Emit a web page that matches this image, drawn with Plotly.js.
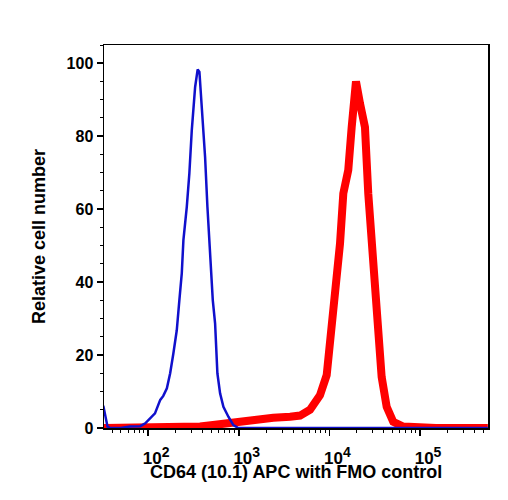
<!DOCTYPE html>
<html>
<head>
<meta charset="utf-8">
<script src="https://cdn.plot.ly/plotly-3.0.1.min.js"></script>
<style>
  html, body { margin: 0; padding: 0; background: #fff; }
  #chart { width: 508px; height: 500px; }
</style>
</head>
<body>
<div id="chart"></div>
<script>
// FMO control histogram (fluorescence intensity vs relative cell number)
const fmoX = [32, 35.6, 38, 50, 63, 82, 93, 105, 119, 136, 147, 161, 175, 190, 207, 221, 235, 245, 267, 285, 303, 330, 352, 368, 391, 425, 451, 483, 517, 548, 581, 622, 677, 768, 871, 990, 2000, 10000, 100000, 560000];
const fmoY = [6.1, 0.4, 0, 0, 0.4, 0.5, 1.3, 2.5, 4, 7.7, 8.8, 10.9, 15, 20.5, 26.8, 35, 42.4, 51.5, 60.6, 69.8, 81.6, 93.5, 98.3, 97.6, 88, 74.3, 60.6, 46.9, 35, 28.7, 15, 9.5, 5.8, 3.1, 0.8, 0, 0, 0, 0, 0];

// CD64 (10.1) APC stained sample
const cd64X = [32, 150, 330, 374, 520, 677, 1033, 1578, 2404, 3679, 4745, 6112, 7875, 9335, 10600, 12040, 13100, 14240, 16150, 17620, 19650, 21750, 24680, 26840, 30480, 33210, 37730, 42860, 50630, 65290, 150000, 560000];
const cd64Y = [0, 0, 0, 0.4, 0.8, 1.2, 1.6, 2.2, 2.8, 3.1, 3.4, 5.0, 9.0, 14.5, 27.5, 36.9, 50.6, 64.3, 70.7, 82.5, 95.0, 89, 82.5, 64.3, 46, 27.8, 14, 5.8, 1.7, 0.4, 0, 0];

// Axis ticks and titles
const xMajor = [100, 1000, 10000, 100000];
const xExponents = ['2', '3', '4', '5'];
const xMinor = [];
for (let d = 10; d <= 100000; d *= 10) {
  for (let m = 2; m <= 9; m++) xMinor.push(m * d);
}
const yMajor = [0, 20, 40, 60, 80, 100];
const xTitle = 'CD64 (10.1) APC with FMO control';
const yTitle = 'Relative cell number';

const FAMILY = 'Liberation Sans, Arial, sans-serif';
const tickFont = { family: FAMILY, size: 16, weight: 'bold', color: '#000' };
const titleFont = { family: FAMILY, size: 18, weight: 'bold', color: '#000' };

const xMajorText = xExponents.map(e => '10<sup><span style="font-size:14px">' + e + '</span></sup>');

const traces = [
  {
    x: cd64X, y: cd64Y, type: 'scatter', mode: 'lines',
    line: { color: '#ff0000', width: 8 },
    hoverinfo: 'skip'
  },
  {
    x: fmoX, y: fmoY, type: 'scatter', mode: 'lines',
    line: { color: '#1010cc', width: 2.5 },
    hoverinfo: 'skip'
  }
];

const layout = {
  width: 508, height: 500,
  margin: { l: 104, r: 20, t: 45, b: 72 },
  paper_bgcolor: '#fff', plot_bgcolor: '#fff',
  showlegend: false,
  xaxis: {
    type: 'log',
    range: [1.513, 5.75],
    tickmode: 'array', tickvals: xMajor, ticktext: xMajorText,
    ticks: 'outside', ticklen: 6, tickwidth: 1.5, tickcolor: '#000',
    ticklabelshift: 8, ticklabelstandoff: 8,
    minor: { tickmode: 'array', tickvals: xMinor, ticks: 'outside', ticklen: 3, tickwidth: 1, tickcolor: '#000' },
    tickfont: { ...tickFont, size: 17 },
    showline: true, linecolor: '#000', linewidth: 1.5, mirror: true,
    showgrid: false, zeroline: false
  },
  yaxis: {
    range: [0, 105],
    tickmode: 'array', tickvals: yMajor,
    ticks: 'outside', ticklen: 6, tickwidth: 1.5, tickcolor: '#000',
    minor: { dtick: 5, ticks: 'outside', ticklen: 3, tickwidth: 1, tickcolor: '#000' },
    tickfont: tickFont,
    showline: true, linecolor: '#000', linewidth: 1.5, mirror: true,
    showgrid: false, zeroline: false,
    title: { text: yTitle, font: titleFont, standoff: 16 }
  },
  // x-axis caption placed just under the tick labels
  annotations: [{
    text: xTitle, font: titleFont, showarrow: false,
    xref: 'paper', yref: 'paper', x: 0.5, y: -0.115,
    xanchor: 'center', yanchor: 'middle'
  }]
};

Plotly.newPlot('chart', traces, layout, { staticPlot: true, displayModeBar: false });
</script>
</body>
</html>
